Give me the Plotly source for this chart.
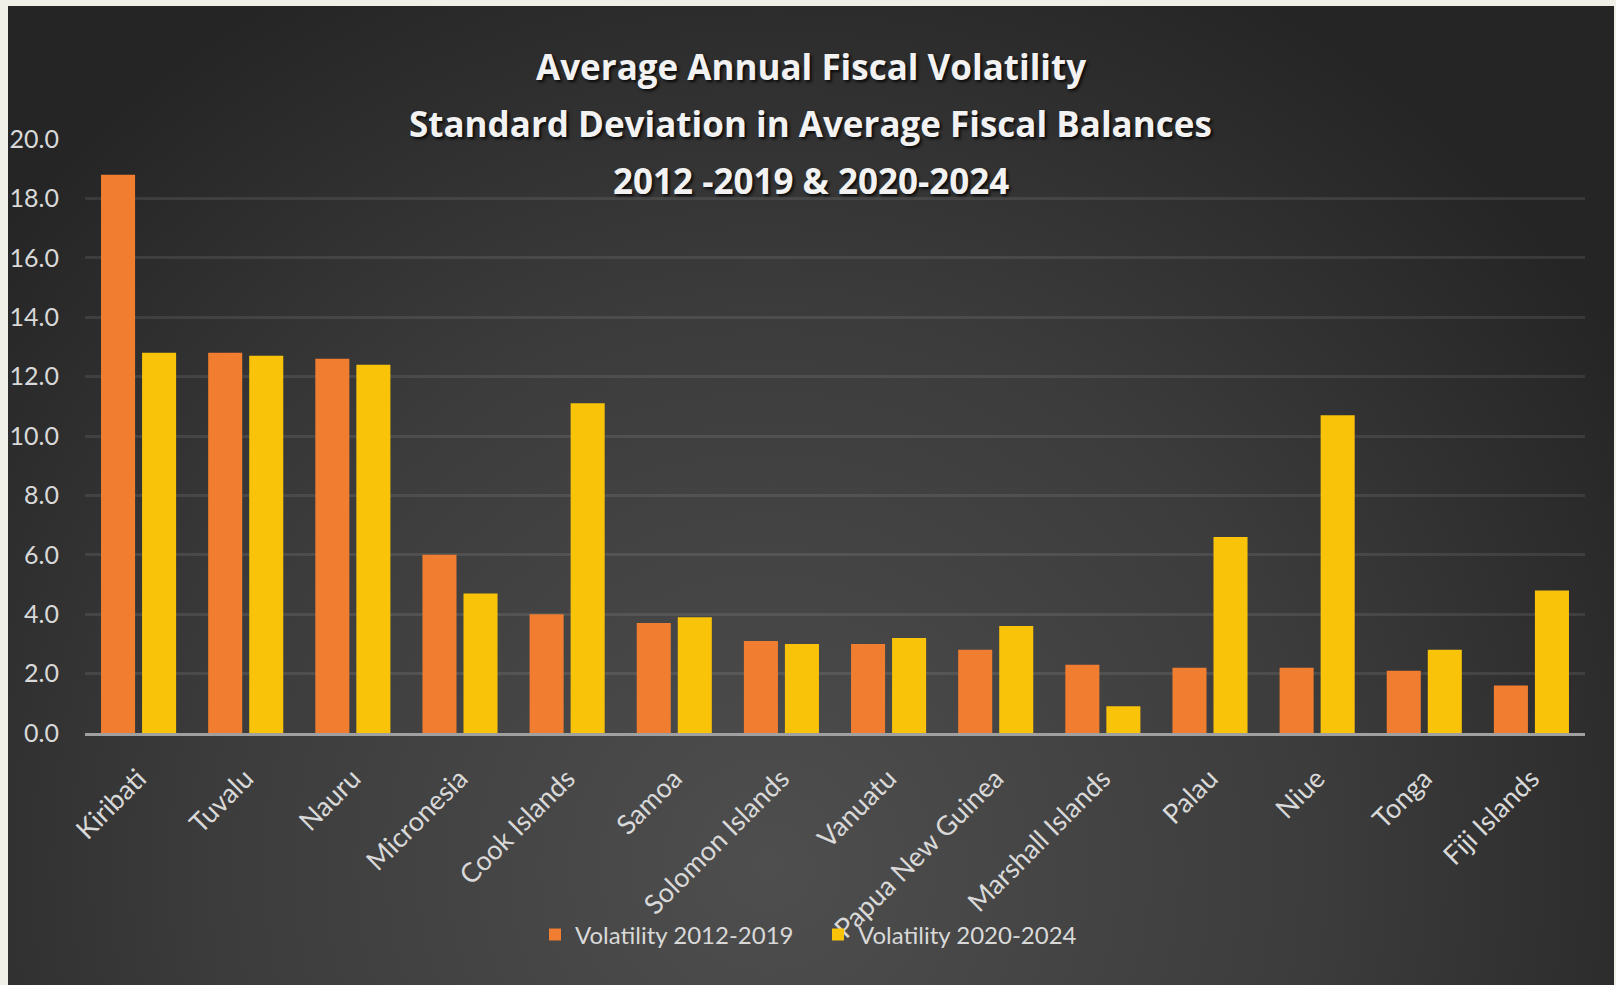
import base64
import plotly.graph_objects as go

countries = ["Kiribati", "Tuvalu", "Nauru", "Micronesia", "Cook Islands", "Samoa",
             "Solomon Islands", "Vanuatu", "Papua New Guinea", "Marshall Islands",
             "Palau", "Niue", "Tonga", "Fiji Islands"]
vol_2012_2019 = [18.8, 12.8, 12.6, 6.0, 4.0, 3.7, 3.1, 3.0, 2.8, 2.3, 2.2, 2.2, 2.1, 1.6]
vol_2020_2024 = [12.8, 12.7, 12.4, 4.7, 11.1, 3.9, 3.0, 3.2, 3.6, 0.9, 6.6, 10.7, 2.8, 4.8]
y_ticks = [0, 2, 4, 6, 8, 10, 12, 14, 16, 18, 20]
title_lines = ["Average Annual Fiscal Volatility",
               "Standard Deviation in Average Fiscal Balances",
               "2012 -2019 & 2020-2024"]
series_names = ["Volatility 2012-2019", "Volatility 2020-2024"]

W, H = 1616, 985
LABEL_FONT = "Lato, Roboto, sans-serif"

svg = ("<svg xmlns='http://www.w3.org/2000/svg' width='1606' height='979' "
       "viewBox='0 0 1606 979' preserveAspectRatio='none'>"
       "<defs><radialGradient id='g' gradientUnits='userSpaceOnUse' cx='760' cy='860' r='1000'>"
       "<stop offset='0' stop-color='#4e4e4e'/>"
       "<stop offset='0.55' stop-color='#3c3c3c'/>"
       "<stop offset='1' stop-color='#252525'/>"
       "</radialGradient></defs>"
       "<rect width='1606' height='979' fill='url(#g)'/></svg>")
bg_src = "data:image/svg+xml;base64," + base64.b64encode(svg.encode()).decode()

fig = go.Figure()
fig.add_trace(go.Bar(x=countries, y=vol_2012_2019, name=series_names[0],
                     marker=dict(color="#F07D30", line=dict(width=0))))
fig.add_trace(go.Bar(x=countries, y=vol_2020_2024, name=series_names[1],
                     marker=dict(color="#F9C30A", line=dict(width=0))))

annotations = []
for i, line in enumerate(title_lines):
    annotations.append(dict(
        text=f"<b>{line}</b>", x=811 / W, y=1 - (66 + 57 * i) / H,
        xref="paper", yref="paper", xanchor="center", yanchor="middle",
        showarrow=False,
        font=dict(family="Open Sans", size=35, color="#F2F2F2",
                  shadow="2px 2px 3px rgba(0,0,0,0.8)")))

fig.update_layout(
    width=W, height=H,
    margin=dict(l=0, r=0, t=0, b=0, pad=0, autoexpand=False),
    paper_bgcolor="#F1F0E8",
    plot_bgcolor="rgba(0,0,0,0)",
    barmode="group", bargap=0.234, bargroupgap=0.17,
    images=[dict(source=bg_src, xref="paper", yref="paper",
                 x=8 / W, y=1 - 6 / H, sizex=1606 / W, sizey=979 / H,
                 xanchor="left", yanchor="top", sizing="stretch", layer="below")],
    annotations=annotations,
    xaxis=dict(domain=[85 / W, 1585 / W], tickangle=-45, automargin=False,
               tickfont=dict(family=LABEL_FONT, size=27, color="#D9D9D9"),
               showgrid=False, showline=True, linecolor="#A0A0A0", linewidth=3,
               ticks="outside", ticklen=16, tickcolor="rgba(0,0,0,0)"),
    yaxis=dict(domain=[1 - 733 / H, 1 - 139 / H], range=[0, 20], automargin=False,
               tickvals=y_ticks, tickformat=".1f",
               tickfont=dict(family=LABEL_FONT, size=25, color="#D9D9D9"),
               showgrid=True, gridcolor="rgba(255,255,255,0.09)", gridwidth=3,
               zeroline=False, ticks="outside", ticklen=20,
               tickcolor="rgba(0,0,0,0)"),
    legend=dict(orientation="h", x=818 / W, y=1 - 935 / H,
                xanchor="center", yanchor="middle",
                font=dict(family=LABEL_FONT, size=24, color="#D9D9D9"),
                bgcolor="rgba(0,0,0,0)", itemwidth=30,
                entrywidth=238, entrywidthmode="pixels"),
    showlegend=True,
)

fig.write_html("out.html", config={"displayModeBar": False},
               post_script="document.body.style.margin='0px';"
                           "document.body.style.overflow='hidden';")
